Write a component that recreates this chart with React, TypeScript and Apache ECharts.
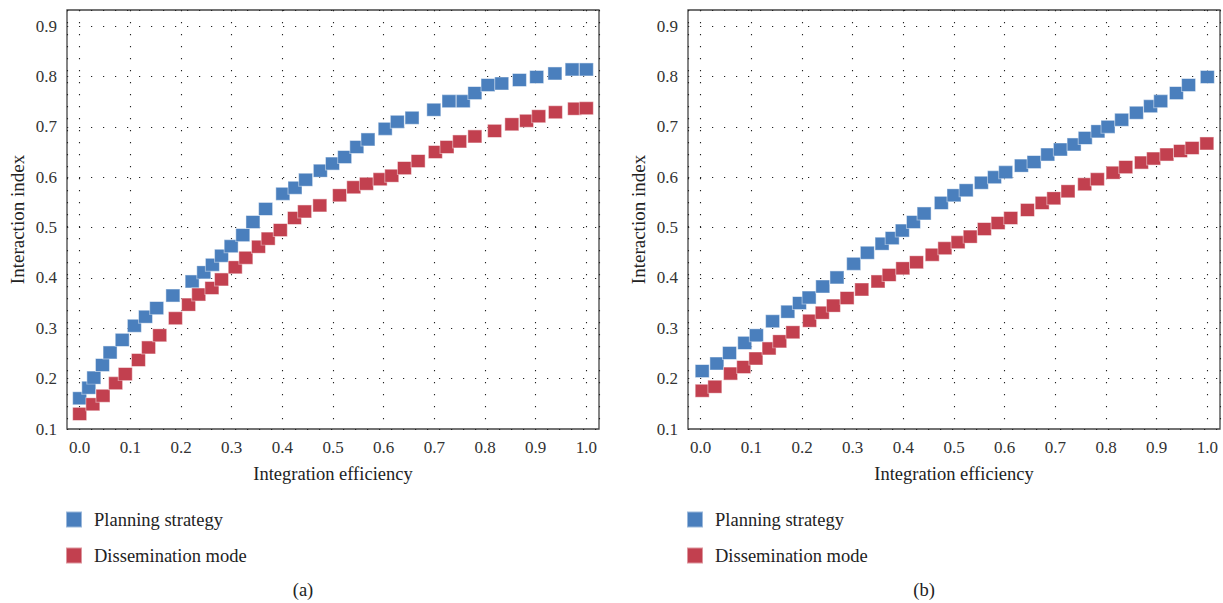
import { useEffect, useRef } from "react";
import * as echarts from "echarts";

// Panel (a)
const aPlanningX = [0.0, 0.018, 0.028, 0.045, 0.06, 0.084, 0.108, 0.13, 0.152, 0.184, 0.222, 0.245, 0.262, 0.28, 0.299, 0.322, 0.342, 0.367, 0.401, 0.425, 0.446, 0.475, 0.499, 0.523, 0.547, 0.569, 0.603, 0.627, 0.656, 0.699, 0.729, 0.757, 0.78, 0.806, 0.833, 0.868, 0.902, 0.938, 0.972, 1.0];
const aPlanningY = [0.161, 0.182, 0.202, 0.227, 0.252, 0.277, 0.305, 0.323, 0.34, 0.365, 0.393, 0.411, 0.426, 0.444, 0.463, 0.485, 0.511, 0.537, 0.567, 0.579, 0.595, 0.613, 0.627, 0.64, 0.66, 0.675, 0.696, 0.71, 0.718, 0.734, 0.751, 0.751, 0.767, 0.783, 0.786, 0.793, 0.799, 0.806, 0.814, 0.814];
const aDissemX = [0.0, 0.026, 0.046, 0.071, 0.09, 0.116, 0.136, 0.158, 0.189, 0.215, 0.235, 0.261, 0.28, 0.307, 0.328, 0.353, 0.372, 0.396, 0.424, 0.444, 0.474, 0.513, 0.541, 0.566, 0.593, 0.616, 0.641, 0.668, 0.702, 0.725, 0.75, 0.78, 0.819, 0.853, 0.882, 0.906, 0.939, 0.977, 1.0];
const aDissemY = [0.13, 0.149, 0.166, 0.191, 0.209, 0.237, 0.262, 0.286, 0.32, 0.347, 0.367, 0.38, 0.397, 0.421, 0.44, 0.462, 0.478, 0.495, 0.519, 0.532, 0.544, 0.564, 0.58, 0.587, 0.596, 0.603, 0.618, 0.632, 0.65, 0.66, 0.671, 0.681, 0.692, 0.705, 0.712, 0.721, 0.729, 0.736, 0.737];

// Panel (b)
const bPlanningX = [0.003, 0.032, 0.057, 0.087, 0.11, 0.142, 0.172, 0.195, 0.214, 0.241, 0.269, 0.302, 0.329, 0.358, 0.378, 0.398, 0.42, 0.441, 0.475, 0.5, 0.524, 0.554, 0.58, 0.602, 0.633, 0.658, 0.685, 0.71, 0.737, 0.759, 0.784, 0.804, 0.831, 0.86, 0.888, 0.908, 0.939, 0.963, 1.0];
const bPlanningY = [0.215, 0.23, 0.251, 0.271, 0.286, 0.314, 0.333, 0.35, 0.361, 0.383, 0.401, 0.428, 0.45, 0.468, 0.479, 0.494, 0.511, 0.528, 0.549, 0.564, 0.574, 0.589, 0.6, 0.61, 0.623, 0.63, 0.645, 0.655, 0.665, 0.678, 0.691, 0.7, 0.714, 0.728, 0.741, 0.751, 0.767, 0.783, 0.799];
const bDissemX = [0.003, 0.028, 0.059, 0.085, 0.109, 0.135, 0.156, 0.182, 0.215, 0.24, 0.262, 0.289, 0.318, 0.35, 0.372, 0.399, 0.426, 0.457, 0.482, 0.508, 0.532, 0.56, 0.587, 0.612, 0.645, 0.674, 0.697, 0.725, 0.758, 0.783, 0.814, 0.839, 0.87, 0.894, 0.92, 0.947, 0.97, 0.999];
const bDissemY = [0.176, 0.184, 0.21, 0.223, 0.24, 0.26, 0.274, 0.292, 0.315, 0.331, 0.345, 0.36, 0.377, 0.393, 0.406, 0.419, 0.431, 0.446, 0.459, 0.471, 0.482, 0.497, 0.509, 0.519, 0.535, 0.549, 0.558, 0.572, 0.586, 0.596, 0.609, 0.62, 0.629, 0.637, 0.645, 0.652, 0.658, 0.667];

const seriesNames = ["Planning strategy", "Dissemination mode"];
const panelLabels = ["(a)", "(b)"];
const xTitle = "Integration efficiency";
const yTitle = "Interaction index";

const BLUE = "#4A7FBD";
const RED = "#C2404F";
const FONT = "Liberation Serif";

const zip = (xs: number[], ys: number[]) => xs.map((x, i) => [x, ys[i]]);

const fmt = (v: number) =>
  Math.abs(v * 10 - Math.round(v * 10)) < 1e-6 ? v.toFixed(1) : "";

export default function App() {
  const ref = useRef<HTMLDivElement>(null);
  useEffect(() => {
    if (!ref.current) return;
    const chart = echarts.init(ref.current, null, { renderer: "svg" });
    const gridLefts = [67, 688];
    const dotted = { color: "#222", width: 1.1, type: [1.2, 10.8] as any };
    const xAxes = gridLefts.map((_, i) => ({
      type: "value",
      gridIndex: i,
      min: -0.025,
      max: 1.025,
      splitNumber: 10,
      name: xTitle,
      nameLocation: "middle",
      nameGap: 35,
      nameTextStyle: { fontFamily: FONT, fontSize: 18.5, color: "#222" },
      axisLine: { show: false },
      axisTick: { show: false },
      axisLabel: {
        formatter: fmt,
        fontFamily: FONT,
        fontSize: 17,
        color: "#333",
        margin: 10,
        showMinLabel: false,
        showMaxLabel: false,
      },
      splitLine: { show: true, lineStyle: dotted },
    }));
    const yAxes = gridLefts.map((_, i) => ({
      type: "value",
      gridIndex: i,
      min: 0.1,
      max: 0.932,
      interval: 0.1,
      name: yTitle,
      nameLocation: "middle",
      nameGap: 40,
      nameTextStyle: { fontFamily: FONT, fontSize: 19, color: "#222" },
      axisLine: { show: false },
      axisTick: { show: false },
      axisLabel: {
        formatter: fmt,
        fontFamily: FONT,
        fontSize: 17,
        color: "#333",
        margin: 10,
        showMaxLabel: false,
      },
      splitLine: { show: true, lineStyle: dotted },
    }));
    const mk = (name: string, color: string, i: number, data: number[][]) => ({
      type: "scatter",
      name,
      xAxisIndex: i,
      yAxisIndex: i,
      symbol: "rect",
      symbolSize: [14, 13],
      itemStyle: { color, borderColor: "rgba(255,255,255,0.45)", borderWidth: 1, opacity: 1 },
      data,
      z: 3,
    });
    chart.setOption({
      animation: false,
      grid: gridLefts.map((left) => ({
        left,
        top: 10,
        width: 532,
        height: 419,
        show: true,
        borderColor: "#444",
        borderWidth: 1.3,
        backgroundColor: "transparent",
      })),
      xAxis: xAxes,
      yAxis: yAxes,
      legend: gridLefts.map((left) => ({
        orient: "vertical",
        left: left - 7,
        top: 505,
        icon: "rect",
        itemWidth: 16,
        itemHeight: 16,
        itemGap: 17,
        data: seriesNames,
        selectedMode: false,
        textStyle: { fontFamily: FONT, fontSize: 18.5, color: "#222", padding: [0, 0, 0, 7] },
      })),
      graphic: panelLabels.map((t, i) => ({
        type: "text",
        x: [303, 924][i],
        y: 590,
        style: {
          text: t,
          fontFamily: FONT,
          fontSize: 18.5,
          fill: "#222",
          textAlign: "center",
          textVerticalAlign: "middle",
        },
      })),
      series: [
        mk(seriesNames[0], BLUE, 0, zip(aPlanningX, aPlanningY)),
        mk(seriesNames[1], RED, 0, zip(aDissemX, aDissemY)),
        mk(seriesNames[0], BLUE, 1, zip(bPlanningX, bPlanningY)),
        mk(seriesNames[1], RED, 1, zip(bDissemX, bDissemY)),
      ],
    });
    return () => chart.dispose();
  }, []);
  return (
    <div
      ref={ref}
      style={{ position: "fixed", left: 0, top: 0, width: 1223, height: 603, background: "#fff" }}
    />
  );
}
